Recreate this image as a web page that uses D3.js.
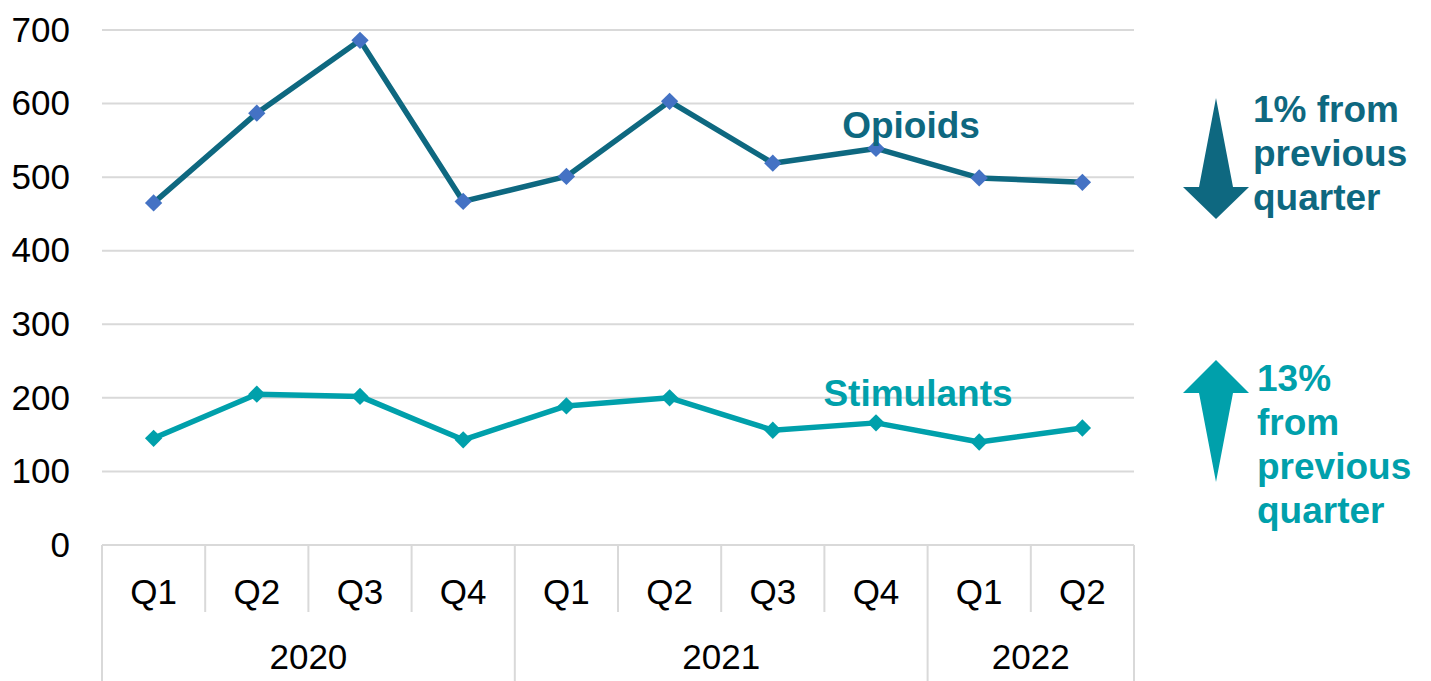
<!DOCTYPE html>
<html>
<head>
<meta charset="utf-8">
<script src="https://cdn.jsdelivr.net/npm/d3@7"></script>
<style>
  body { margin: 0; background: #fff; }
  svg { font-family: "Liberation Sans", Arial, sans-serif; }
</style>
</head>
<body>
<div id="chart"></div>
<script>
/* Data */
const quarters = ["Q1", "Q2", "Q3", "Q4", "Q1", "Q2", "Q3", "Q4", "Q1", "Q2"];
const years = [
    {label: "2020", from: 0, to: 4},
    {label: "2021", from: 4, to: 8},
    {label: "2022", from: 8, to: 10}
];
const opioids = [465, 587, 686, 467, 501, 603, 519, 539, 499, 493];
const stimulants = [145, 205, 202, 143, 189, 200, 156, 166, 140, 159];
const yTicks = [0, 100, 200, 300, 400, 500, 600, 700];

const W = 1431, H = 681;
const margin = {top: 30, left: 102, right: 297, bottom: 136};
const width = W - margin.left - margin.right,
      height = H - margin.top - margin.bottom;

const svg = d3.select("#chart").append("svg")
    .attr("width", W)
    .attr("height", H);

const g = svg.append("g")
    .attr("transform", "translate(" + margin.left + "," + margin.top + ")");

/* Scales */
const x = d3.scaleBand().domain(d3.range(quarters.length)).range([0, width]);
const y = d3.scaleLinear().domain([0, 700]).range([height, 0]);
const cx = i => x(i) + x.bandwidth() / 2;

/* Gridlines */
g.selectAll(".grid").data(yTicks).enter().append("line")
    .attr("x1", 0).attr("x2", width)
    .attr("y1", d => y(d)).attr("y2", d => y(d))
    .attr("stroke", "#d9d9d9").attr("stroke-width", 2);

/* Y axis labels */
g.append("g")
    .call(d3.axisLeft(y).tickValues(yTicks).tickSize(0).tickPadding(32))
    .call(a => a.select(".domain").remove())
    .selectAll("text")
    .attr("font-size", 35).attr("fill", "#000")
    .attr("font-family", "Liberation Sans, Arial, sans-serif");

/* Multi-level category axis */
const axisG = g.append("g").attr("transform", "translate(0," + height + ")");
d3.range(quarters.length + 1).forEach(i => {
    const xx = i < quarters.length ? x(i) : width;
    const isYear = years.some(yr => yr.from === i) || i === quarters.length;
    axisG.append("line")
        .attr("x1", xx).attr("x2", xx)
        .attr("y1", 0).attr("y2", isYear ? margin.bottom : 67)
        .attr("stroke", "#d9d9d9").attr("stroke-width", 2);
});
axisG.selectAll(".q").data(quarters).enter().append("text")
    .attr("x", (d, i) => cx(i)).attr("y", 59)
    .attr("text-anchor", "middle").attr("font-size", 35).attr("fill", "#000")
    .text(d => d);
axisG.selectAll(".yr").data(years).enter().append("text")
    .attr("x", d => (x(d.from) + (d.to < quarters.length ? x(d.to) : width)) / 2)
    .attr("y", 124)
    .attr("text-anchor", "middle").attr("font-size", 35).attr("fill", "#000")
    .text(d => d.label);

/* Lines */
const line = d3.line().x((d, i) => cx(i)).y(d => y(d));

function drawSeries(values, lineColor, markColor) {
    g.append("path").datum(values)
        .attr("d", line)
        .attr("fill", "none").attr("stroke", lineColor)
        .attr("stroke-width", 5.5).attr("stroke-linejoin", "round");
    g.selectAll(null).data(values).enter().append("path")
        .attr("d", d3.symbol().type(d3.symbolSquare).size(150))
        .attr("transform", (d, i) => "translate(" + cx(i) + "," + y(d) + ") rotate(45)")
        .attr("fill", markColor);
}
drawSeries(opioids, "#0e6880", "#4472c4");
drawSeries(stimulants, "#00a0ab", "#00a0ab");

/* Series labels */
g.append("text").attr("x", cx(7) + 35).attr("y", y(opioids[7]) - 10)
    .attr("text-anchor", "middle").attr("font-size", 37).attr("font-weight", "bold")
    .attr("fill", "#0e6880").text("Opioids");
g.append("text").attr("x", cx(7) + 42).attr("y", y(stimulants[7]) - 17)
    .attr("text-anchor", "middle").attr("font-size", 37).attr("font-weight", "bold")
    .attr("fill", "#00a0ab").text("Stimulants");

/* Change arrows and notes */
function arrow(cxA, tipY, baseY, endY, color) {
    // head triangle from tip to base, tapering shaft from base to end
    const p = d3.path();
    p.moveTo(cxA, tipY);
    p.lineTo(cxA + 33, baseY);
    p.lineTo(cxA + 17, baseY);
    p.lineTo(cxA, endY);
    p.lineTo(cxA - 17, baseY);
    p.lineTo(cxA - 33, baseY);
    p.closePath();
    svg.append("path").attr("d", p.toString()).attr("fill", color);
}
arrow(1216, 219, 187, 98, "#0e6880");
arrow(1216, 360, 393, 482, "#00a0ab");

function note(lines, x0, y0, color) {
    const t = svg.append("text").attr("font-size", 37).attr("font-weight", "bold").attr("fill", color);
    lines.forEach((s, i) => t.append("tspan").attr("x", x0).attr("y", y0 + i * 44).text(s));
}
note(["1% from", "previous", "quarter"], 1253, 122, "#0e6880");
note(["13%", "from", "previous", "quarter"], 1257, 391, "#00a0ab");
</script>
</body>
</html>
